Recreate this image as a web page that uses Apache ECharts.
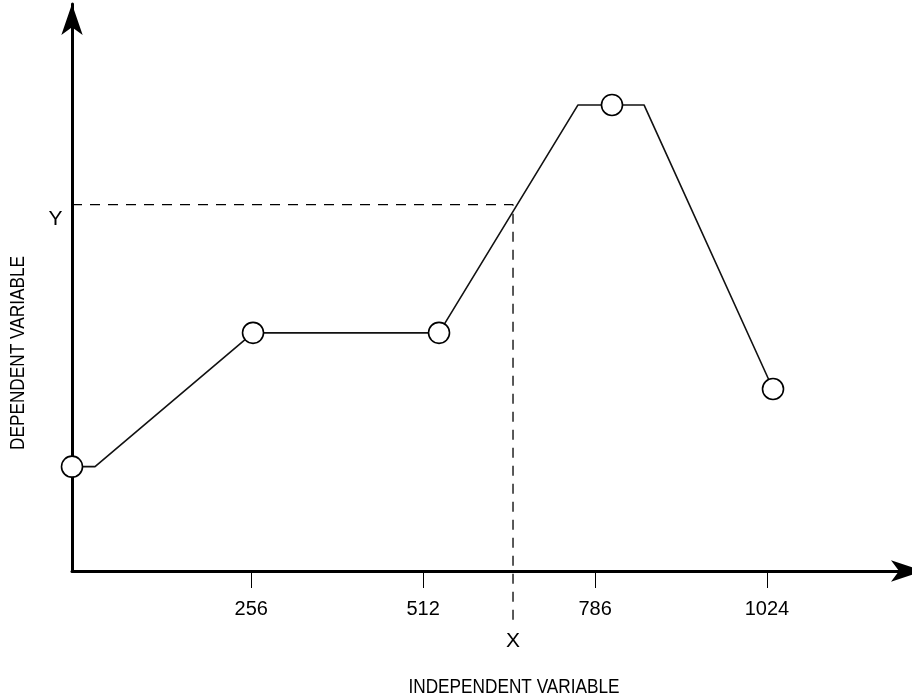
<!DOCTYPE html>
<html>
<head>
<meta charset="utf-8">
<script src="https://cdn.jsdelivr.net/npm/echarts@6/dist/echarts.min.js"></script>
<style>html,body{margin:0;padding:0;background:#fff;}#c{width:912px;height:698px;}</style>
</head>
<body>
<div id="c"></div>
<script>
// ---- data ----
var pathX = [-11, 23.3, 258.6, 535.6, 742.6, 793.2, 840.9, 1033.0];
var pathY = [18.4, 18.4, 42.0, 42.0, 82.2, 82.2, 82.2, 32.1];
var hasCircle = [true, false, true, true, false, true, false, true];
var tickValues = [256, 512, 768, 1024];
var tickLabels = ['256', '512', '786', '1024'];
var readX = 645.8;
var readY = 64.6;
var readBottom = -9.3;
var xName = 'INDEPENDENT VARIABLE';
var yName = 'DEPENDENT VARIABLE';

var FONT = '"Liberation Sans", Arial, sans-serif';

var lineData = pathX.map(function (x, i) {
  return { value: [x, pathY[i]], symbol: hasCircle[i] ? 'circle' : 'none' };
});

var chart = echarts.init(document.getElementById('c'));
chart.setOption({
  animation: false,
  backgroundColor: '#fff',
  grid: { left: 72, top: 4, right: 0, bottom: 127, containLabel: false },
  xAxis: {
    type: 'value', min: -11, max: 1240,
    axisLine: { show: true, onZero: false, lineStyle: { color: '#000', width: 3 }, symbol: ['none', 'arrow'], symbolSize: [16, 32], symbolOffset: [0, 11] },
    axisTick: { show: true, customValues: tickValues, length: 17, lineStyle: { color: '#000', width: 1 } },
    axisLabel: {
      show: true, customValues: tickValues, margin: 28,
      fontFamily: FONT, fontSize: 20, color: '#000',
      formatter: function (v) { var i = tickValues.indexOf(v); return i >= 0 ? tickLabels[i] : ''; }
    },
    splitLine: { show: false }
  },
  yAxis: {
    type: 'value', min: 0, max: 100,
    axisLine: { show: true, onZero: false, lineStyle: { color: '#000', width: 3 }, symbol: ['none', 'arrow'], symbolSize: [16, 31] },
    axisTick: { show: false },
    axisLabel: { show: false },
    splitLine: { show: false }
  },
  graphic: [
    { type: 'text', x: 514, y: 687, scaleX: 0.82, style: { text: xName, font: '21px ' + FONT, fill: '#000', textAlign: 'center', textVerticalAlign: 'middle' } },
    { type: 'text', x: 18.5, y: 353, rotation: Math.PI / 2, scaleX: 0.82, style: { text: yName, font: '21px ' + FONT, fill: '#000', textAlign: 'center', textVerticalAlign: 'middle' } }
  ],
  series: [
    {
      type: 'line',
      data: [
        { value: [-11, readY], label: { show: true, position: 'left', distance: 9, offset: [0, 14], formatter: 'Y' } },
        { value: [readX, readY] },
        { value: [readX, readBottom], label: { show: true, position: 'bottom', distance: 6, formatter: 'X' } }
      ],
      symbol: 'circle', symbolSize: 1,
      itemStyle: { color: 'rgba(0,0,0,0)', borderWidth: 0 },
      label: { show: false, fontFamily: FONT, fontSize: 21, color: '#000' },
      lineStyle: { color: '#000', width: 1.3, type: [10, 8] },
      clip: false, z: 1, silent: true
    },
    {
      type: 'line',
      data: lineData,
      symbolSize: 21,
      showSymbol: true,
      itemStyle: { color: '#fff', borderColor: '#000', borderWidth: 1.6 },
      lineStyle: { color: '#111', width: 1.6 },
      clip: false, z: 5, silent: true
    }
  ]
});
</script>
</body>
</html>
